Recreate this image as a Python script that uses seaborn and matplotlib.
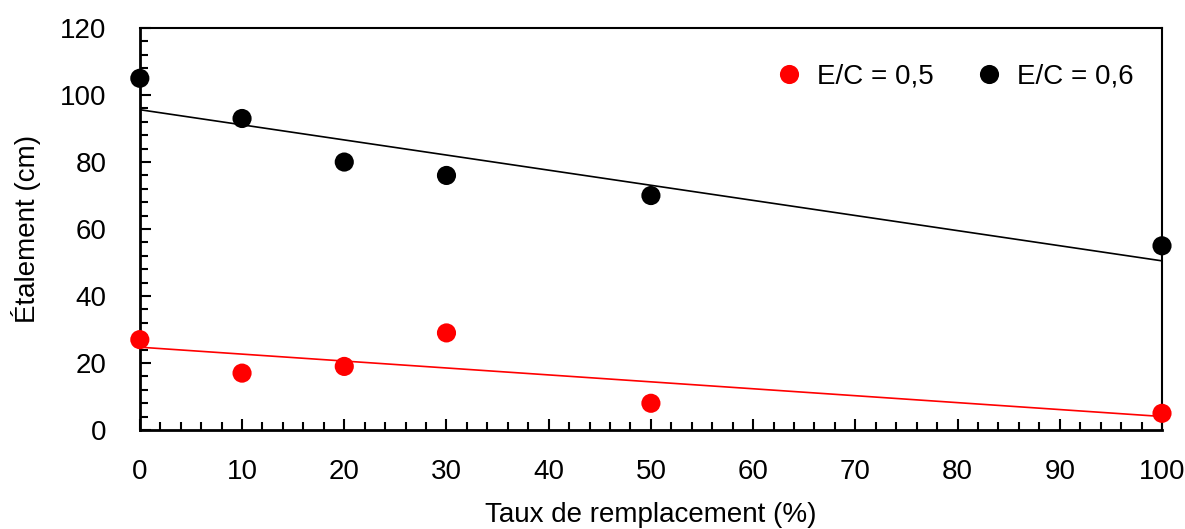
import pandas as pd
import matplotlib.pyplot as plt
import seaborn as sns
from matplotlib.ticker import MultipleLocator

# Données
taux = [0, 10, 20, 30, 50, 100]
etal_05 = [27, 17, 19, 29, 8, 5]
etal_06 = [105, 93, 80, 76, 70, 55]
series = ['E/C = 0,5', 'E/C = 0,6']
couleurs = ['red', 'black']

df = pd.concat([
    pd.DataFrame({'taux': taux, 'etal': etal_05, 'serie': series[0]}),
    pd.DataFrame({'taux': taux, 'etal': etal_06, 'serie': series[1]}),
], ignore_index=True)

sns.set_style('ticks')
plt.rcParams['font.family'] = ['Liberation Sans', 'DejaVu Sans']
plt.rcParams['text.color'] = 'black'
plt.rcParams['axes.labelcolor'] = 'black'

fig = plt.figure(figsize=(11.85, 5.29), dpi=100)
ax = fig.add_axes([0.118, 0.187, 0.8626, 0.760])

# droites de tendance
for s, c in zip(series, couleurs):
    sns.regplot(data=df[df['serie'] == s], x='taux', y='etal', scatter=False,
                ci=None, color=c, line_kws={'linewidth': 1.2}, ax=ax)

sns.scatterplot(data=df, x='taux', y='etal', hue='serie', palette=couleurs,
                s=190, edgecolor='none', ax=ax, zorder=3, clip_on=False)

ax.set_xlim(0, 100)
ax.set_ylim(0, 120)
ax.xaxis.set_major_locator(MultipleLocator(10))
ax.xaxis.set_minor_locator(MultipleLocator(2))
ax.yaxis.set_major_locator(MultipleLocator(20))
ax.yaxis.set_minor_locator(MultipleLocator(4))
ax.tick_params(which='both', direction='in', top=False, right=False,
               width=1.5, colors='black')
ax.tick_params(which='major', length=8, labelsize=20)
ax.tick_params(axis='x', which='major', pad=21)
ax.tick_params(axis='y', which='major', pad=24)
ax.tick_params(which='minor', length=6)

for side in ['left', 'bottom']:
    ax.spines[side].set_linewidth(2)
for side in ['top', 'right']:
    ax.spines[side].set_linewidth(1.5)
for sp in ax.spines.values():
    sp.set_color('black')
    sp.set_visible(True)

ax.set_xlabel('Taux de remplacement (%)', fontsize=20, labelpad=12)
ax.set_ylabel('Étalement (cm)', fontsize=20, labelpad=14)

ax.legend(loc='upper right', bbox_to_anchor=(0.983, 0.94), ncol=2, frameon=False,
          fontsize=20, handletextpad=0.0, columnspacing=1.0, markerscale=1.0,
          borderaxespad=0)

fig.savefig('out.png', dpi=100)
